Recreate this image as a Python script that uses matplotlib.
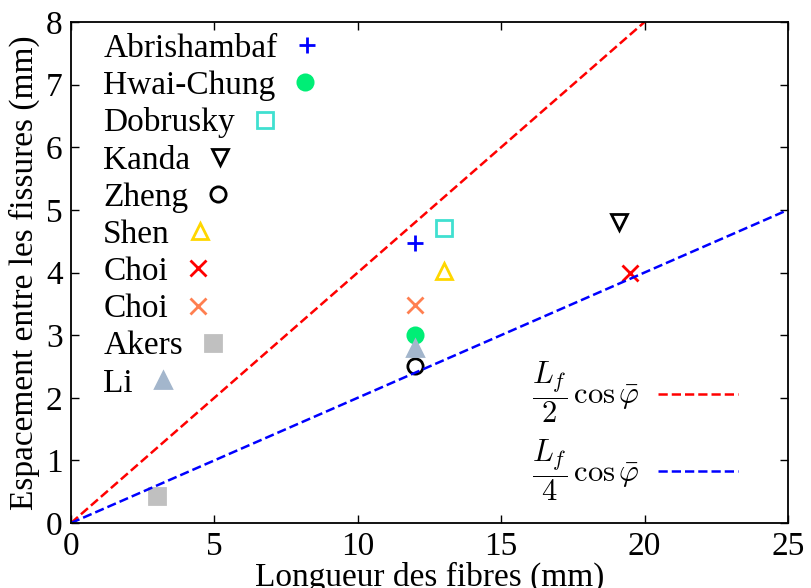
import matplotlib.pyplot as plt
import numpy as np

plt.rcParams['font.family'] = ['Liberation Serif', 'DejaVu Serif']
plt.rcParams['mathtext.fontset'] = 'cm'
plt.rcParams['font.size'] = 24

# Data
authors = ['Abrishambaf', 'Hwai-Chung', 'Dobrusky', 'Kanda', 'Zheng',
           'Shen', 'Choi', 'Choi', 'Akers', 'Li']
fibre_length = [12, 12, 13, 19.1, 12, 13, 19.5, 12, 3, 12]
crack_spacing = [4.47, 3.0, 4.71, 4.8, 2.5, 4.02, 4.0, 3.48, 0.43, 2.8]
colors = ['blue', '#00ee76', 'turquoise', 'black', 'black',
          'gold', 'red', 'coral', 'silver', '#a3b6cc']
markers = ['+', 'o', 's', 'v', 'o', '^', 'x', 'x', 's', '^']
filled = [True, True, False, False, False, False, True, True, True, True]

cos_phi = 0.8
x_line = np.array([0, 25])

fig = plt.figure(figsize=(8.11, 5.88), dpi=100)
ax = fig.add_axes([0.0875, 0.1105, 0.8841, 0.8521])

handles = []
for xi, yi, lab, c, m, f in zip(fibre_length, crack_spacing, authors, colors, markers, filled):
    h, = ax.plot([xi], [yi], linestyle='none', marker=m, markersize=11,
                 markeredgewidth=2, color=c,
                 markerfacecolor=c if f else 'none', label=lab)
    handles.append(h)

l1, = ax.plot(x_line, x_line * cos_phi / 2, 'r--', lw=1.8)
l2, = ax.plot(x_line, x_line * cos_phi / 4, 'b--', lw=1.8)

ax.set_xlim(0, 25)
ax.set_ylim(0, 8)
ax.set_xticks([0, 5, 10, 15, 20, 25])
ax.set_yticks(range(9))
ax.tick_params(direction='in', length=6, width=1, top=True, right=True, pad=6)
for s in ax.spines.values():
    s.set_linewidth(1.3)
ax.set_xlabel('Longueur des fibres (mm)', labelpad=0)
ax.set_ylabel('Espacement entre les fissures (mm)', labelpad=4)

leg1 = ax.legend(handles=handles, loc='upper left', bbox_to_anchor=(0.045, 0.978),
                 frameon=False, markerfirst=False, handlelength=1.0,
                 handletextpad=0.4, labelspacing=0.2, borderaxespad=0, borderpad=0)
# keep labels left-aligned, markers just after each label
for col in leg1._legend_handle_box.get_children():
    col.align = 'left'
ax.add_artist(leg1)

ax.legend([l1, l2], [r'$\dfrac{L_f}{2}\,\cos\bar{\varphi}$', r'$\dfrac{L_f}{4}\,\cos\bar{\varphi}$'],
          loc='lower right', bbox_to_anchor=(0.93, 0.04), frameon=False,
          fontsize=22, markerfirst=False, handlelength=2.6, handletextpad=0.6,
          labelspacing=0.38, borderaxespad=0, borderpad=0)

fig.savefig('out.png', dpi=100)
